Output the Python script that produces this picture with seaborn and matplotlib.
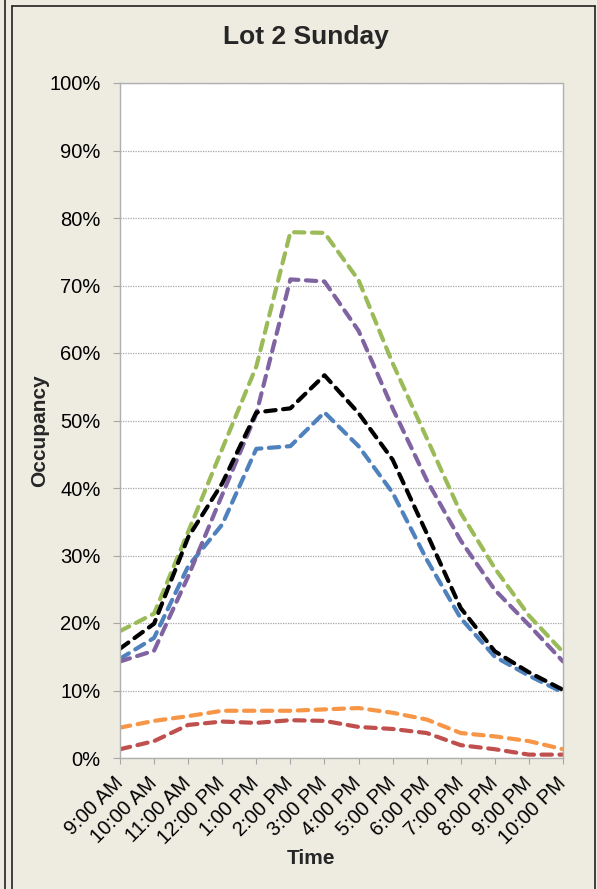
import pandas as pd
import numpy as np
import matplotlib
matplotlib.use('Agg')
import matplotlib.pyplot as plt
import seaborn as sns
from matplotlib.lines import Line2D
import matplotlib.ticker as mticker

# Datos (ocupacion en %)
horas = ['9:00 AM', '10:00 AM', '11:00 AM', '12:00 PM', '1:00 PM', '2:00 PM', '3:00 PM',
         '4:00 PM', '5:00 PM', '6:00 PM', '7:00 PM', '8:00 PM', '9:00 PM', '10:00 PM']

serie_azul = [14.7, 17.8, 28.4, 34.6, 45.8, 46.2, 51.2, 46.2, 39.3, 29.4, 20.7, 15.0, 12.2, 9.7]
serie_roja = [1.3, 2.5, 4.9, 5.4, 5.2, 5.6, 5.5, 4.6, 4.3, 3.7, 1.9, 1.3, 0.5, 0.5]
serie_verde = [18.8, 21.4, 33.5, 45.8, 58.0, 77.9, 77.8, 70.8, 58.5, 47.4, 36.3, 28.1, 21.1, 15.7]
serie_morada = [14.3, 15.9, 26.9, 39.0, 51.0, 70.9, 70.6, 63.3, 51.8, 41.2, 32.2, 24.9, 19.7, 14.3]
serie_naranja = [4.5, 5.5, 6.2, 7.0, 7.0, 7.0, 7.2, 7.4, 6.7, 5.7, 3.7, 3.2, 2.5, 1.3]
serie_negra = [16.2, 19.9, 32.7, 40.7, 51.2, 51.8, 56.7, 51.1, 44.2, 33.3, 22.2, 15.8, 12.7, 10.1]

series = {
    'Serie 1': serie_azul,
    'Serie 2': serie_roja,
    'Serie 3': serie_verde,
    'Serie 4': serie_morada,
    'Serie 5': serie_naranja,
    'Serie 6': serie_negra,
}
colores = ['#4F81BD', '#C0504D', '#9BBB59', '#8064A2', '#F79646', '#000000']

filas = []
for nombre, valores in series.items():
    for i, v in enumerate(valores):
        filas.append({'pos': i, 'hora': horas[i], 'serie': nombre, 'ocupacion': v})
df = pd.DataFrame(filas)

sns.set_theme(style='white')
plt.rcParams['font.family'] = ['Liberation Sans', 'DejaVu Sans']

fondo = '#EEECE1'
fig = plt.figure(figsize=(5.97, 8.89), dpi=100)
fig.patch.set_facecolor(fondo)
ax = fig.add_axes([120 / 597, 1 - 758 / 889, 443 / 597, 675 / 889])
ax.set_facecolor('white')

sns.lineplot(data=df, x='pos', y='ocupacion', hue='serie', hue_order=list(series.keys()),
             palette=colores, errorbar=None, legend=False, ax=ax,
             linewidth=3.0, linestyle=(0, (2.5, 1.8)), dash_capstyle='round')

ax.set_xlim(0, len(horas) - 1)
ax.set_ylim(0, 100)
ax.set_yticks(np.arange(0, 101, 10))
ax.yaxis.set_major_formatter(mticker.FuncFormatter(lambda x, _: f'{int(x)}%'))
ax.set_xticks(range(len(horas)))
ax.set_xticklabels(horas, rotation=45, ha='right', va='center', rotation_mode='anchor')

ax.grid(axis='y', color='#A6A6A6', linestyle=(0, (1, 1)), linewidth=0.9)
ax.grid(axis='x', visible=False)
for lado in ['left', 'right', 'top', 'bottom']:
    ax.spines[lado].set_visible(True)
    ax.spines[lado].set_color('#B0B0B0')
    ax.spines[lado].set_linewidth(1.0)
for lado in ['right', 'top']:
    ax.spines[lado].set_linestyle((0, (1, 1)))

ax.tick_params(axis='y', which='major', left=True, length=5, width=0.8, color='#A6A6A6',
               labelsize=14.5, pad=9, labelcolor='black')
ax.tick_params(axis='x', which='major', bottom=True, length=4, width=0.8, color='#A6A6A6',
               labelsize=14.5, pad=12, labelcolor='black')

ax.set_xlabel('')
ax.set_ylabel('')
fig.text(306 / 597, 1 - 37 / 889, 'Lot 2 Sunday', ha='center', va='center',
         fontsize=19, fontweight='bold')
fig.text(311 / 597, 1 - 858 / 889, 'Time', ha='center', va='center',
         fontsize=15, fontweight='bold')
fig.text(40 / 597, 1 - 431 / 889, 'Occupancy', ha='center', va='center', rotation=90,
         fontsize=15, fontweight='bold')

# Bordes del marco
def linea(x0, y0, x1, y1):
    fig.add_artist(Line2D([x0 / 597, x1 / 597], [1 - y0 / 889, 1 - y1 / 889],
                          color='#222222', linewidth=1.2, transform=fig.transFigure))

linea(4.5, 0, 4.5, 889)
linea(11.5, 6, 11.5, 889)
linea(11.5, 6, 595, 6)
linea(595, 6, 595, 889)

fig.savefig('out.png', dpi=100, facecolor=fondo)
